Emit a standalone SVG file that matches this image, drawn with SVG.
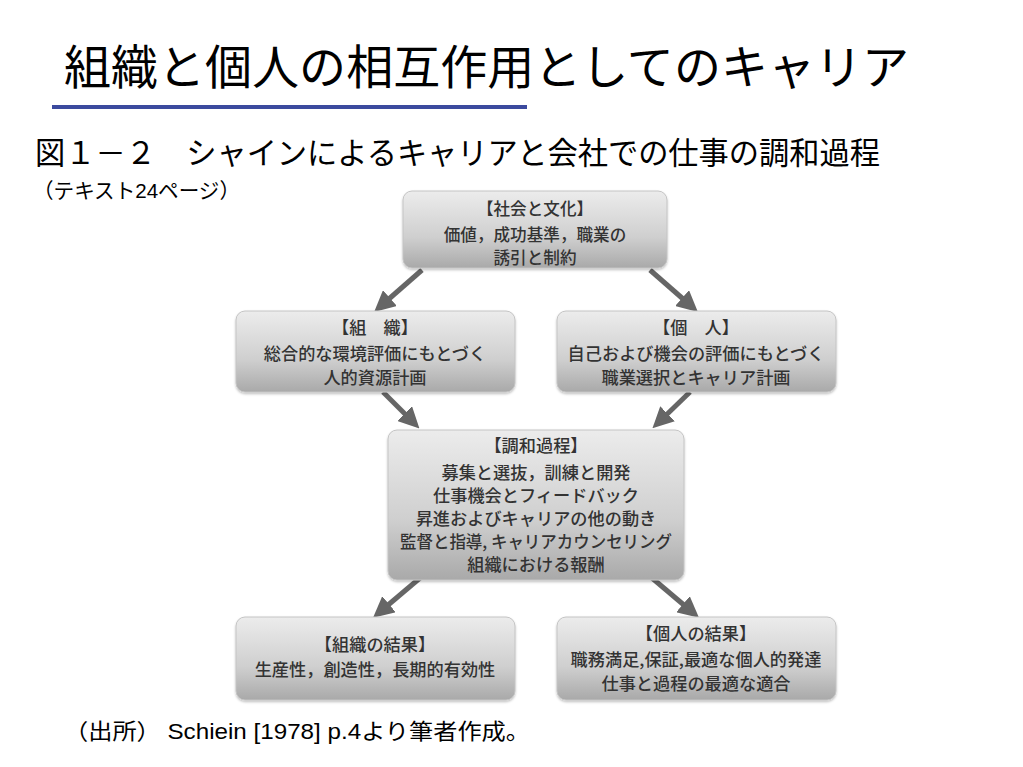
<svg xmlns="http://www.w3.org/2000/svg" width="1023" height="767" viewBox="0 0 1023 767">
<defs>
<linearGradient id="g" x1="0" y1="0" x2="0" y2="1">
<stop offset="0" stop-color="#ececec"/>
<stop offset="0.6" stop-color="#cfcfcf"/>
<stop offset="1" stop-color="#a9a9a9"/>
</linearGradient>
<marker id="ah" viewBox="0 0 10 10" refX="5" refY="5" markerWidth="4.2" markerHeight="4.2" orient="auto" markerUnits="strokeWidth">
<path d="M0,0 L10,5 L0,10 z" fill="#666"/>
</marker>
<filter id="sh" x="-5%" y="-5%" width="110%" height="115%">
<feDropShadow dx="0" dy="1.5" stdDeviation="1.2" flood-color="#000" flood-opacity="0.25"/>
</filter>
</defs>
<style>
.box{fill:url(#g);stroke:#c4c4c4;stroke-width:1;filter:url(#sh)}
.t{font-family:"Noto Sans CJK JP","Noto Sans",sans-serif;font-size:17.2px;fill:#333;text-anchor:middle;font-weight:500}
.s{font-size:16.6px}
.h{font-family:"Liberation Sans","Noto Sans CJK JP",sans-serif;fill:#000}
.arr{stroke:#666;stroke-width:5;fill:none;marker-end:url(#ah)}
</style>
<rect width="1023" height="767" fill="#fff"/>
<text class="h" x="64" y="84" font-size="47" textLength="845" lengthAdjust="spacingAndGlyphs">組織と個人の相互作用としてのキャリア</text>
<rect x="52" y="105" width="475" height="4" fill="#3b4a9e"/>
<text class="h" x="35" y="164" font-size="31" textLength="845" lengthAdjust="spacingAndGlyphs">図１－２　シャインによるキャリアと会社での仕事の調和過程</text>
<text class="h" x="33" y="198" font-size="21" textLength="207" lengthAdjust="spacingAndGlyphs">（テキスト24ページ）</text>
<g id="connectors">
<line class="arr" x1="422" y1="270" x2="382" y2="305"/>
<line class="arr" x1="650" y1="270" x2="690" y2="305"/>
<line class="arr" x1="383" y1="392" x2="412" y2="421"/>
<line class="arr" x1="690" y1="392" x2="660" y2="421"/>
<line class="arr" x1="420" y1="578" x2="381" y2="611"/>
<line class="arr" x1="652" y1="578" x2="691" y2="611"/>
</g>
<g id="society">
<rect class="box" x="403" y="191" width="264" height="77" rx="9"/>
<text class="t s" x="535" y="215">【社会と文化】</text>
<text class="t s" x="535" y="241">価値，成功基準，職業の</text>
<text class="t s" x="535" y="264">誘引と制約</text>
</g>
<g id="org">
<rect class="box" x="236" y="311" width="279" height="81" rx="9"/>
<text class="t" x="375" y="334">【組　織】</text>
<text class="t" x="375" y="360">総合的な環境評価にもとづく</text>
<text class="t" x="375" y="384">人的資源計画</text>
</g>
<g id="individual">
<rect class="box" x="557" y="311" width="279" height="81" rx="9"/>
<text class="t" x="696" y="334">【個　人】</text>
<text class="t" x="696" y="360">自己および機会の評価にもとづく</text>
<text class="t" x="696" y="384">職業選択とキャリア計画</text>
</g>
<g id="matching">
<rect class="box" x="388" y="430" width="296" height="150" rx="9"/>
<text class="t" x="536" y="452">【調和過程】</text>
<text class="t" x="536" y="479">募集と選抜，訓練と開発</text>
<text class="t" x="536" y="502">仕事機会とフィードバック</text>
<text class="t" x="536" y="525">昇進およびキャリアの他の動き</text>
<text class="t" x="536" y="548" textLength="272" lengthAdjust="spacingAndGlyphs">監督と指導, キャリアカウンセリング</text>
<text class="t" x="536" y="571">組織における報酬</text>
</g>
<g id="org-result">
<rect class="box" x="236" y="617" width="279" height="83" rx="9"/>
<text class="t" x="375" y="651">【組織の結果】</text>
<text class="t" x="375" y="676">生産性，創造性，長期的有効性</text>
</g>
<g id="ind-result">
<rect class="box" x="557" y="617" width="279" height="83" rx="9"/>
<text class="t" x="696" y="640">【個人の結果】</text>
<text class="t" x="696" y="666">職務満足,保証,最適な個人的発達</text>
<text class="t" x="696" y="690">仕事と過程の最適な適合</text>
</g>
<text class="h" x="64" y="739" font-size="22" textLength="466" lengthAdjust="spacingAndGlyphs">（出所） Schiein [1978] p.4より筆者作成。</text>
</svg>
